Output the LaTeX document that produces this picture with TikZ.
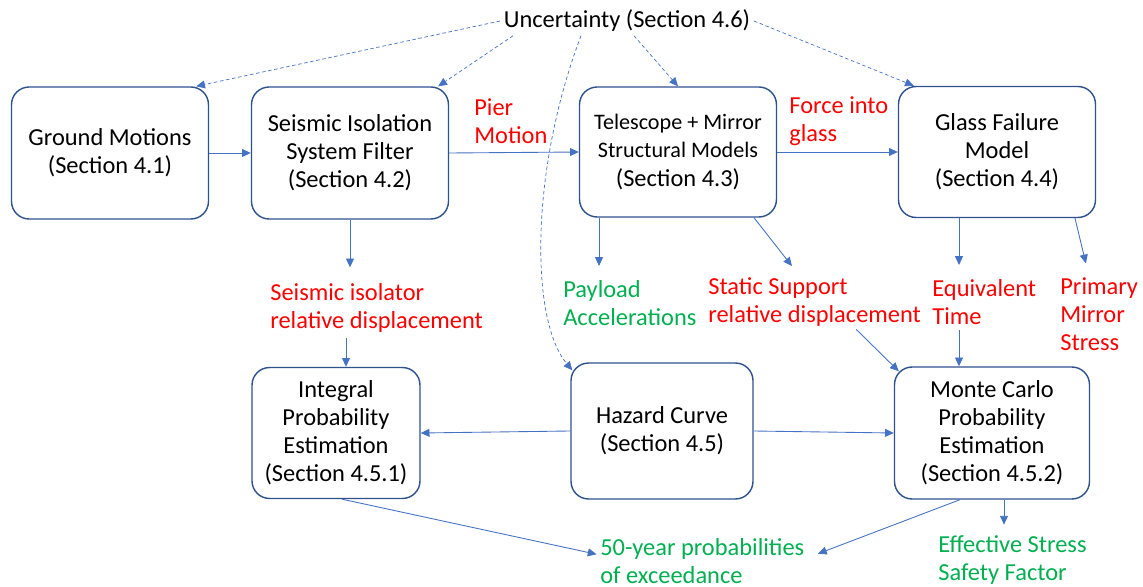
\documentclass[tikz,border=0pt]{standalone}
\usepackage{fontspec}
\setmainfont{Carlito}
\usepackage{xcolor}
\usepackage{tikz}
\usetikzlibrary{positioning,calc,arrows.meta}
\definecolor{linkblue}{HTML}{4472C4}
\definecolor{boxblue}{HTML}{2F528F}
\definecolor{outred}{HTML}{FF0000}
\definecolor{outgreen}{HTML}{00B050}
\tikzset{
  stage/.style={draw=boxblue, line width=0.8pt, rounded corners=10pt, fill=white, align=center,
    inner sep=2pt, font=\fontsize{13.9}{16}\selectfont},
  flow/.style={draw=linkblue, line width=0.5pt, -{Triangle[length=5pt,width=4.5pt]}},
  unc/.style={flow, dash pattern=on 2pt off 1.5pt, line width=0.4pt},
  redlbl/.style={text=outred, align=left, inner sep=0pt, anchor=west, font=\fontsize{13.9}{16}\selectfont},
  greenlbl/.style={redlbl, text=outgreen}
}

\begin{document}
\begin{tikzpicture}[x=0.02cm, y=-0.02cm]
    \useasboundingbox (0,0) rectangle (1143,587);

    \node[stage, minimum width=3.94cm, minimum height=2.64cm] (gm) at (110,153) {Ground Motions\\(Section 4.1)};
    \node[stage, minimum width=3.94cm, minimum height=2.64cm] (sis) at (350,153) {Seismic Isolation\\System Filter\\(Section 4.2)};
    \node[stage, minimum width=3.94cm, minimum height=2.60cm, font=\fontsize{12.6}{16}\selectfont] (tel) at (678,152) {Telescope + Mirror\\Structural Models\\{\fontsize{13.9}{16}\selectfont(Section 4.3)}};
    \node[stage, minimum width=3.94cm, minimum height=2.62cm] (gfm) at (997,152) {Glass Failure\\Model\\(Section 4.4)};
    \node[stage, minimum width=3.36cm, minimum height=2.62cm] (ipe) at (336,433) {Integral\\Probability\\Estimation\\(Section 4.5.1)};
    \node[stage, minimum width=3.64cm, minimum height=2.72cm] (haz) at (662,431) {Hazard Curve\\(Section 4.5)};
    \node[stage, minimum width=3.90cm, minimum height=2.64cm] (mc) at (992,433) {Monte Carlo\\Probability\\Estimation\\(Section 4.5.2)};

    \node[font=\fontsize{13.9}{16}\selectfont, inner sep=2pt] (un) at (627,21) {Uncertainty (Section 4.6)};

    \node[redlbl] (pier) at (474,121) {Pier\\Motion};
    \node[redlbl] (force) at (789,121) {Force into\\glass};
    \node[redlbl] (isol) at (270,308) {Seismic isolator\\relative displacement};
    \node[greenlbl] (pay) at (563,303) {Payload\\Accelerations};
    \node[redlbl] (sts) at (708,302) {Static Support\\relative displacement};
    \node[redlbl] (eqt) at (932,302) {Equivalent\\Time};
    \node[redlbl] (prm) at (1060,314) {Primary\\Mirror\\Stress};
    \node[greenlbl] (prob) at (600,561) {50-year probabilities\\of exceedance};
    \node[greenlbl] (eff) at (938,560) {Effective Stress\\Safety Factor};

    \draw[flow] (gm.east) -- (sis.west);
    \draw[flow] (sis.east) -- (tel.west);
    \draw[flow] (tel.east) -- (gfm.west);
    \draw[flow, shorten >=9pt] (sis.south) -- (sis.south |- isol.north);
    \draw[flow, shorten <=3pt] ([xshift=0.2cm]ipe.north |- isol.south) -- ([xshift=0.2cm]ipe.north);
    \draw[flow, shorten >=8pt] ([xshift=-1.58cm]tel.south) -- ([xshift=-1.58cm]tel.south |- pay.north);
    \draw[flow, shorten >=8pt] ([xshift=1.52cm]tel.south) -- ([xshift=-0.28cm]sts.north);
    \draw[flow, shorten <=2pt] ([xshift=0.78cm]sts.south) -- ([shift={(0.1cm,-0.1cm)}]mc.north west);
    \draw[flow, shorten >=8pt] ([xshift=-0.76cm]gfm.south) -- ([xshift=-0.76cm]gfm.south |- eqt.north);
    \draw[flow, shorten <=3pt] ([xshift=-0.66cm]mc.north |- eqt.south) -- ([xshift=-0.66cm]mc.north);
    \draw[flow, shorten >=8pt] ([xshift=1.56cm]gfm.south) -- ([xshift=-0.2cm]prm.north);
    \draw[flow] (haz.west) -- (ipe.east);
    \draw[flow] (haz.east) -- (mc.west);
    \draw[flow, shorten >=2pt] ([xshift=0.12cm]ipe.south) -- ([yshift=0.12cm]prob.west);
    \draw[flow, shorten >=2pt] ([xshift=-0.64cm]mc.south) -- ([shift={(0.2cm,0.12cm)}]prob.east);
    \draw[flow, shorten >=6pt] ([xshift=0.24cm]mc.south) -- ([xshift=0.24cm]mc.south |- eff.north);

    \draw[unc] (un.west) -- ([xshift=-0.26cm]gm.north east);
    \draw[unc] ([xshift=-2.28cm]un.south) -- ([xshift=-0.22cm]sis.north east);
    \draw[unc] ([xshift=-0.92cm]un.south) .. controls (530,170) and (530,320) .. ([shift={(0.04cm,-0.16cm)}]haz.north west);
    \draw[unc] ([xshift=0.14cm]un.south) -- (tel.north);
    \draw[unc] (un.east) -- ([xshift=0.32cm]gfm.north west);
\end{tikzpicture}
\end{document}
